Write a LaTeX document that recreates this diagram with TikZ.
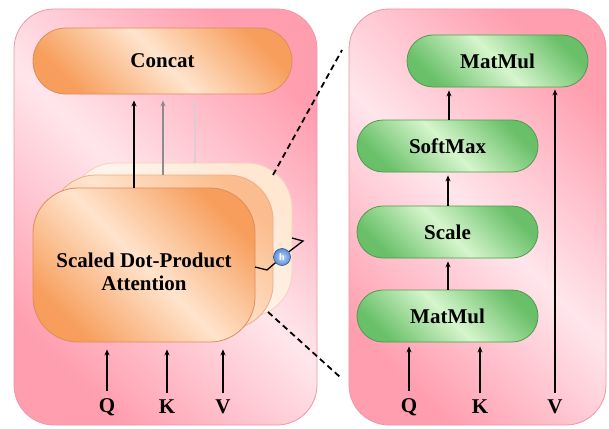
\documentclass[tikz,border=0pt]{standalone}
\usepackage{fontspec}
\setmainfont{Liberation Serif}
\usetikzlibrary{arrows.meta,shadings}
\definecolor{pinkD}{RGB}{255,158,175}
\definecolor{pinkL}{RGB}{255,230,236}
\definecolor{pinkB}{RGB}{240,150,165}
\definecolor{orD}{RGB}{247,158,92}
\definecolor{orL}{RGB}{255,228,205}
\definecolor{orB}{RGB}{225,140,90}
\definecolor{grD}{RGB}{105,192,105}
\definecolor{grL}{RGB}{214,245,204}
\definecolor{grB}{RGB}{80,155,80}
\definecolor{hball}{RGB}{90,140,215}
\definecolor{hlight}{RGB}{185,215,250}
\begin{document}
\begin{tikzpicture}[x=1pt,y=-1pt,
  panel/.style={draw=pinkB,line width=0.8pt,rounded corners=40pt,top color=pinkD,bottom color=pinkD,middle color=pinkL,shading angle=-45},
  obox/.style={draw=orB,line width=0.8pt,top color=orD,bottom color=orD,middle color=orL,shading angle=-45,inner sep=0pt,align=center,font=\fontsize{21}{24}\selectfont\bfseries},
  gbox/.style={draw=grB,line width=0.8pt,top color=grD,bottom color=grD,middle color=grL,shading angle=-45,inner sep=0pt,minimum width=181pt,minimum height=52pt,rounded corners=26pt,font=\fontsize{21}{24}\selectfont\bfseries},
  lab/.style={inner sep=0pt,font=\fontsize{21}{24}\selectfont\bfseries},
  arr/.style={line width=1.6pt,-{Stealth[length=6pt,width=5pt]}},
  dsh/.style={line width=1.8pt,dash pattern=on 6pt off 4pt},
  brk/.style={line width=1.3pt}]
\useasboundingbox (0,0) rectangle (609,428);
% panels
\path[panel] (14,9) rectangle (317,425);
\path[panel] (349,9) rectangle (606,425);
% left side
\node[obox,minimum width=259pt,minimum height=66pt,rounded corners=33pt] (concat) at (162.5,61) {Concat};
\node[draw=orB!40!white,line width=0.8pt,top color=orL!90!white,bottom color=orL!90!white,middle color=orL!40!white,shading angle=-45,minimum width=222pt,minimum height=154pt,rounded corners=45pt,inner sep=0pt] (back) at (181,240) {};
\node[draw=orB!70!white,line width=0.8pt,top color=orD!55!orL,bottom color=orD!55!orL,middle color=orL,shading angle=-45,minimum width=222pt,minimum height=154pt,rounded corners=45pt,inner sep=0pt] (mid) at (162,252) {};
\node[obox,minimum width=222pt,minimum height=154pt,rounded corners=45pt] (front) at (144,265) {};
\node[lab,align=center] (sdpa) at (144,272) {Scaled Dot-Product\\[-1pt]Attention};
\draw[arr] (front.north -| 134,0) -- ([yshift=-6pt]concat.south -| 134,0);
\draw[arr,draw=black!45] (mid.north -| 163,0) -- ([yshift=-6pt]concat.south -| 163,0);
\draw[arr,draw=pinkB!60!black!30] (back.north -| 195,0) -- ([yshift=-6pt]concat.south -| 195,0);
% h brace
\coordinate (b1) at (255,267);
\coordinate (b2) at (267,270);
\coordinate (b3) at (303,241);
\coordinate (b4) at (292,238);
\coordinate (hc) at (282,257);
\draw[brk] (b1) -- (b2) -- (hc) -- (b3) -- (b4);
\node[circle,inner color=hlight,outer color=hball,draw=hball!60!black,line width=0.6pt,minimum size=17pt,inner sep=0pt,text=white,font=\sffamily\bfseries\fontsize{10}{10}\selectfont] (h) at (hc) {h};
% Q K V left
\node[lab] (q1) at (107,407) {Q};
\node[lab] (k1) at (167,407) {K};
\node[lab] (v1) at (223,407) {V};
\foreach \n in {q1,k1,v1}
  \draw[arr] ([yshift=7pt]\n.north) -- ([yshift=-7pt]front.south -| \n);
% dashed
\coordinate (d1a) at (273,175);
\coordinate (d1b) at (342,50);
\coordinate (d2a) at (268,312);
\coordinate (d2b) at (340,377);
\draw[dsh] (d1a) -- (d1b);
\draw[dsh] (d2a) -- (d2b);
% right side
\node[gbox] (mm2) at (497.5,61) {MatMul};
\node[gbox] (smx) at (447.5,146) {SoftMax};
\node[gbox] (scl) at (447.5,232) {Scale};
\node[gbox] (mm1) at (447.5,316) {MatMul};
\draw[arr] (smx.north -| 449,0) -- ([yshift=-3pt]mm2.south -| 449,0);
\draw[arr] (scl.north -| 448,0) -- ([yshift=-3pt]smx.south -| 448,0);
\draw[arr] (mm1.north -| 448,0) -- ([yshift=-3pt]scl.south -| 448,0);
\node[lab] (q2) at (409,407) {Q};
\node[lab] (k2) at (480,407) {K};
\node[lab] (v2) at (555,407) {V};
\draw[arr] ([yshift=7pt]q2.north) -- ([yshift=-4pt]mm1.south -| q2);
\draw[arr] ([yshift=7pt]k2.north) -- ([yshift=-4pt]mm1.south -| k2);
\draw[arr] ([yshift=7pt]v2.north) -- ([yshift=-2pt]mm2.south -| v2);
\end{tikzpicture}
\end{document}
